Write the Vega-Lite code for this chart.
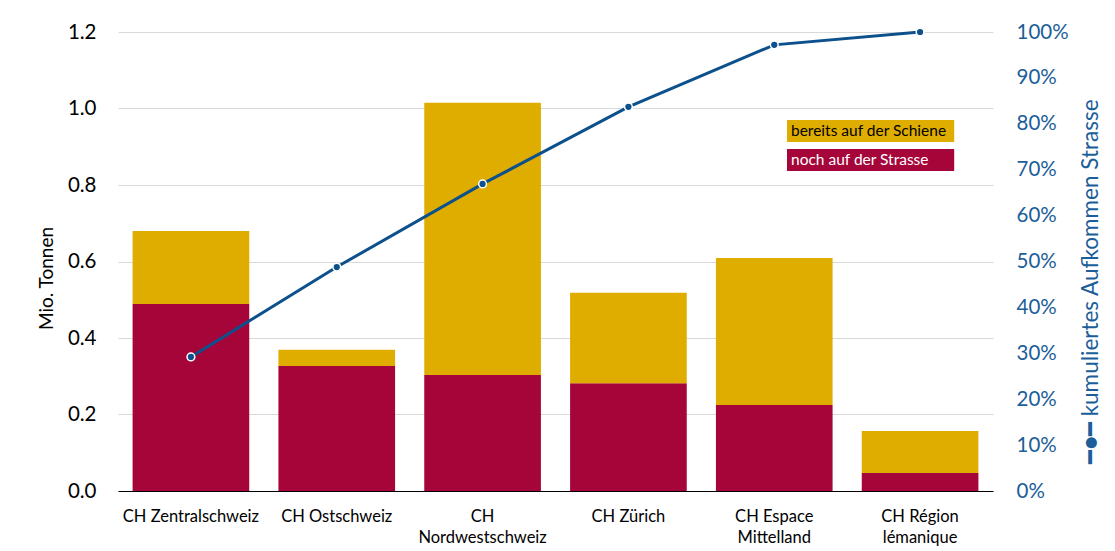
{
  "$schema": "https://vega.github.io/schema/vega-lite/v6.json",
  "width": 875,
  "height": 459,
  "autosize": {"type": "none"},
  "padding": {"left": 118, "top": 32, "right": 122, "bottom": 60},
  "background": "white",
  "config": {
    "font": "Lato",
    "view": {"stroke": null},
    "axis": {"labelFont": "Lato", "titleFont": "Lato", "titleFontWeight": "normal"}
  },
  "datasets": {
    "segmente": [
      {"region": "CH Zentralschweiz", "art": "noch auf der Strasse", "rang": 1, "tonnen": 0.489},
      {"region": "CH Zentralschweiz", "art": "bereits auf der Schiene", "rang": 2, "tonnen": 0.191},
      {"region": "CH Ostschweiz", "art": "noch auf der Strasse", "rang": 1, "tonnen": 0.327},
      {"region": "CH Ostschweiz", "art": "bereits auf der Schiene", "rang": 2, "tonnen": 0.042},
      {"region": "CH Nordwestschweiz", "art": "noch auf der Strasse", "rang": 1, "tonnen": 0.303},
      {"region": "CH Nordwestschweiz", "art": "bereits auf der Schiene", "rang": 2, "tonnen": 0.712},
      {"region": "CH Zürich", "art": "noch auf der Strasse", "rang": 1, "tonnen": 0.282},
      {"region": "CH Zürich", "art": "bereits auf der Schiene", "rang": 2, "tonnen": 0.236},
      {"region": "CH Espace Mittelland", "art": "noch auf der Strasse", "rang": 1, "tonnen": 0.225},
      {"region": "CH Espace Mittelland", "art": "bereits auf der Schiene", "rang": 2, "tonnen": 0.384},
      {"region": "CH Région lémanique", "art": "noch auf der Strasse", "rang": 1, "tonnen": 0.047},
      {"region": "CH Région lémanique", "art": "bereits auf der Schiene", "rang": 2, "tonnen": 0.110}
    ],
    "kumuliert": [
      {"region": "CH Zentralschweiz", "anteil": 0.292},
      {"region": "CH Ostschweiz", "anteil": 0.488},
      {"region": "CH Nordwestschweiz", "anteil": 0.669},
      {"region": "CH Zürich", "anteil": 0.837},
      {"region": "CH Espace Mittelland", "anteil": 0.972},
      {"region": "CH Région lémanique", "anteil": 1.0}
    ]
  },
  "encoding": {
    "x": {
      "field": "region",
      "type": "nominal",
      "sort": null,
      "scale": {
        "domain": ["CH Zentralschweiz", "CH Ostschweiz", "CH Nordwestschweiz", "CH Zürich", "CH Espace Mittelland", "CH Région lémanique"],
        "paddingInner": 0.2,
        "paddingOuter": 0.1
      },
      "axis": {
        "title": null,
        "labelAngle": 0,
        "labelFontSize": 16.5,
        "labelColor": "black",
        "labelPadding": 17,
        "labelLineHeight": 21,
        "ticks": false,
        "tickSize": 0,
        "domainColor": "black",
        "domainWidth": 1.2,
        "labelExpr": "{'CH Nordwestschweiz': ['CH', 'Nordwestschweiz'], 'CH Espace Mittelland': ['CH Espace', 'Mittelland'], 'CH Région lémanique': ['CH Région', 'lémanique']}[datum.value] || datum.value"
      }
    }
  },
  "layer": [
    {
      "data": {"name": "segmente"},
      "mark": {"type": "bar"},
      "encoding": {
        "y": {
          "field": "tonnen",
          "type": "quantitative",
          "stack": "zero",
          "scale": {"domain": [0, 1.2], "nice": false},
          "axis": {
            "orient": "left",
            "title": "Mio. Tonnen",
            "titleFontSize": 19,
            "titleColor": "black",
            "titlePadding": 11,
            "titleY": 246,
            "values": [0, 0.2, 0.4, 0.6, 0.8, 1.0, 1.2],
            "format": ".1f",
            "labelFontSize": 20.5,
            "labelColor": "black",
            "labelPadding": 22,
            "ticks": false,
            "tickSize": 0,
            "domain": false,
            "grid": true,
            "gridColor": "#d9d9d9",
            "gridWidth": 1
          }
        },
        "order": {"field": "rang", "type": "quantitative"},
        "color": {
          "field": "art",
          "type": "nominal",
          "scale": {
            "domain": ["bereits auf der Schiene", "noch auf der Strasse"],
            "range": ["#dfad00", "#a6053a"]
          },
          "legend": {
            "title": null,
            "orient": "none",
            "legendX": 669,
            "legendY": 88,
            "padding": 0,
            "rowPadding": 7,
            "symbolType": "M-1,-1H14.2V1H-1Z",
            "symbolSize": 484,
            "symbolStrokeWidth": 0,
            "symbolOpacity": 1,
            "labelOffset": -18,
            "labelFontSize": 15.5,
            "labelFont": "Lato",
            "labelLimit": 300,
            "encode": {
              "labels": {
                "update": {
                  "fill": {"signal": "datum.value === 'noch auf der Strasse' ? 'white' : 'black'"}
                }
              }
            }
          }
        }
      }
    },
    {
      "data": {"name": "kumuliert"},
      "layer": [
        {
          "mark": {"type": "line", "color": "#0c508c", "strokeWidth": 3},
          "encoding": {
            "y": {
              "field": "anteil",
              "type": "quantitative",
              "scale": {"domain": [0, 1], "nice": false},
              "axis": {
                "orient": "right",
                "title": "━●━ kumuliertes Aufkommen Strasse",
                "titleAngle": -90,
                "titleFontSize": 22.5,
                "titleColor": "#1b5e9a",
                "titlePadding": 34,
                "titleY": 249,
                "values": [0, 0.1, 0.2, 0.3, 0.4, 0.5, 0.6, 0.7, 0.8, 0.9, 1.0],
                "format": ".0%",
                "labelFontSize": 20.5,
                "labelColor": "#1b5e9a",
                "labelPadding": 23,
                "ticks": false,
                "tickSize": 0,
                "domain": false,
                "grid": false
              }
            }
          }
        },
        {
          "mark": {"type": "point", "filled": true, "color": "#0c508c", "size": 60, "stroke": "white", "strokeWidth": 1.5, "opacity": 1},
          "encoding": {
            "y": {"field": "anteil", "type": "quantitative"}
          }
        }
      ]
    }
  ],
  "resolve": {"scale": {"y": "independent", "color": "independent"}}
}
